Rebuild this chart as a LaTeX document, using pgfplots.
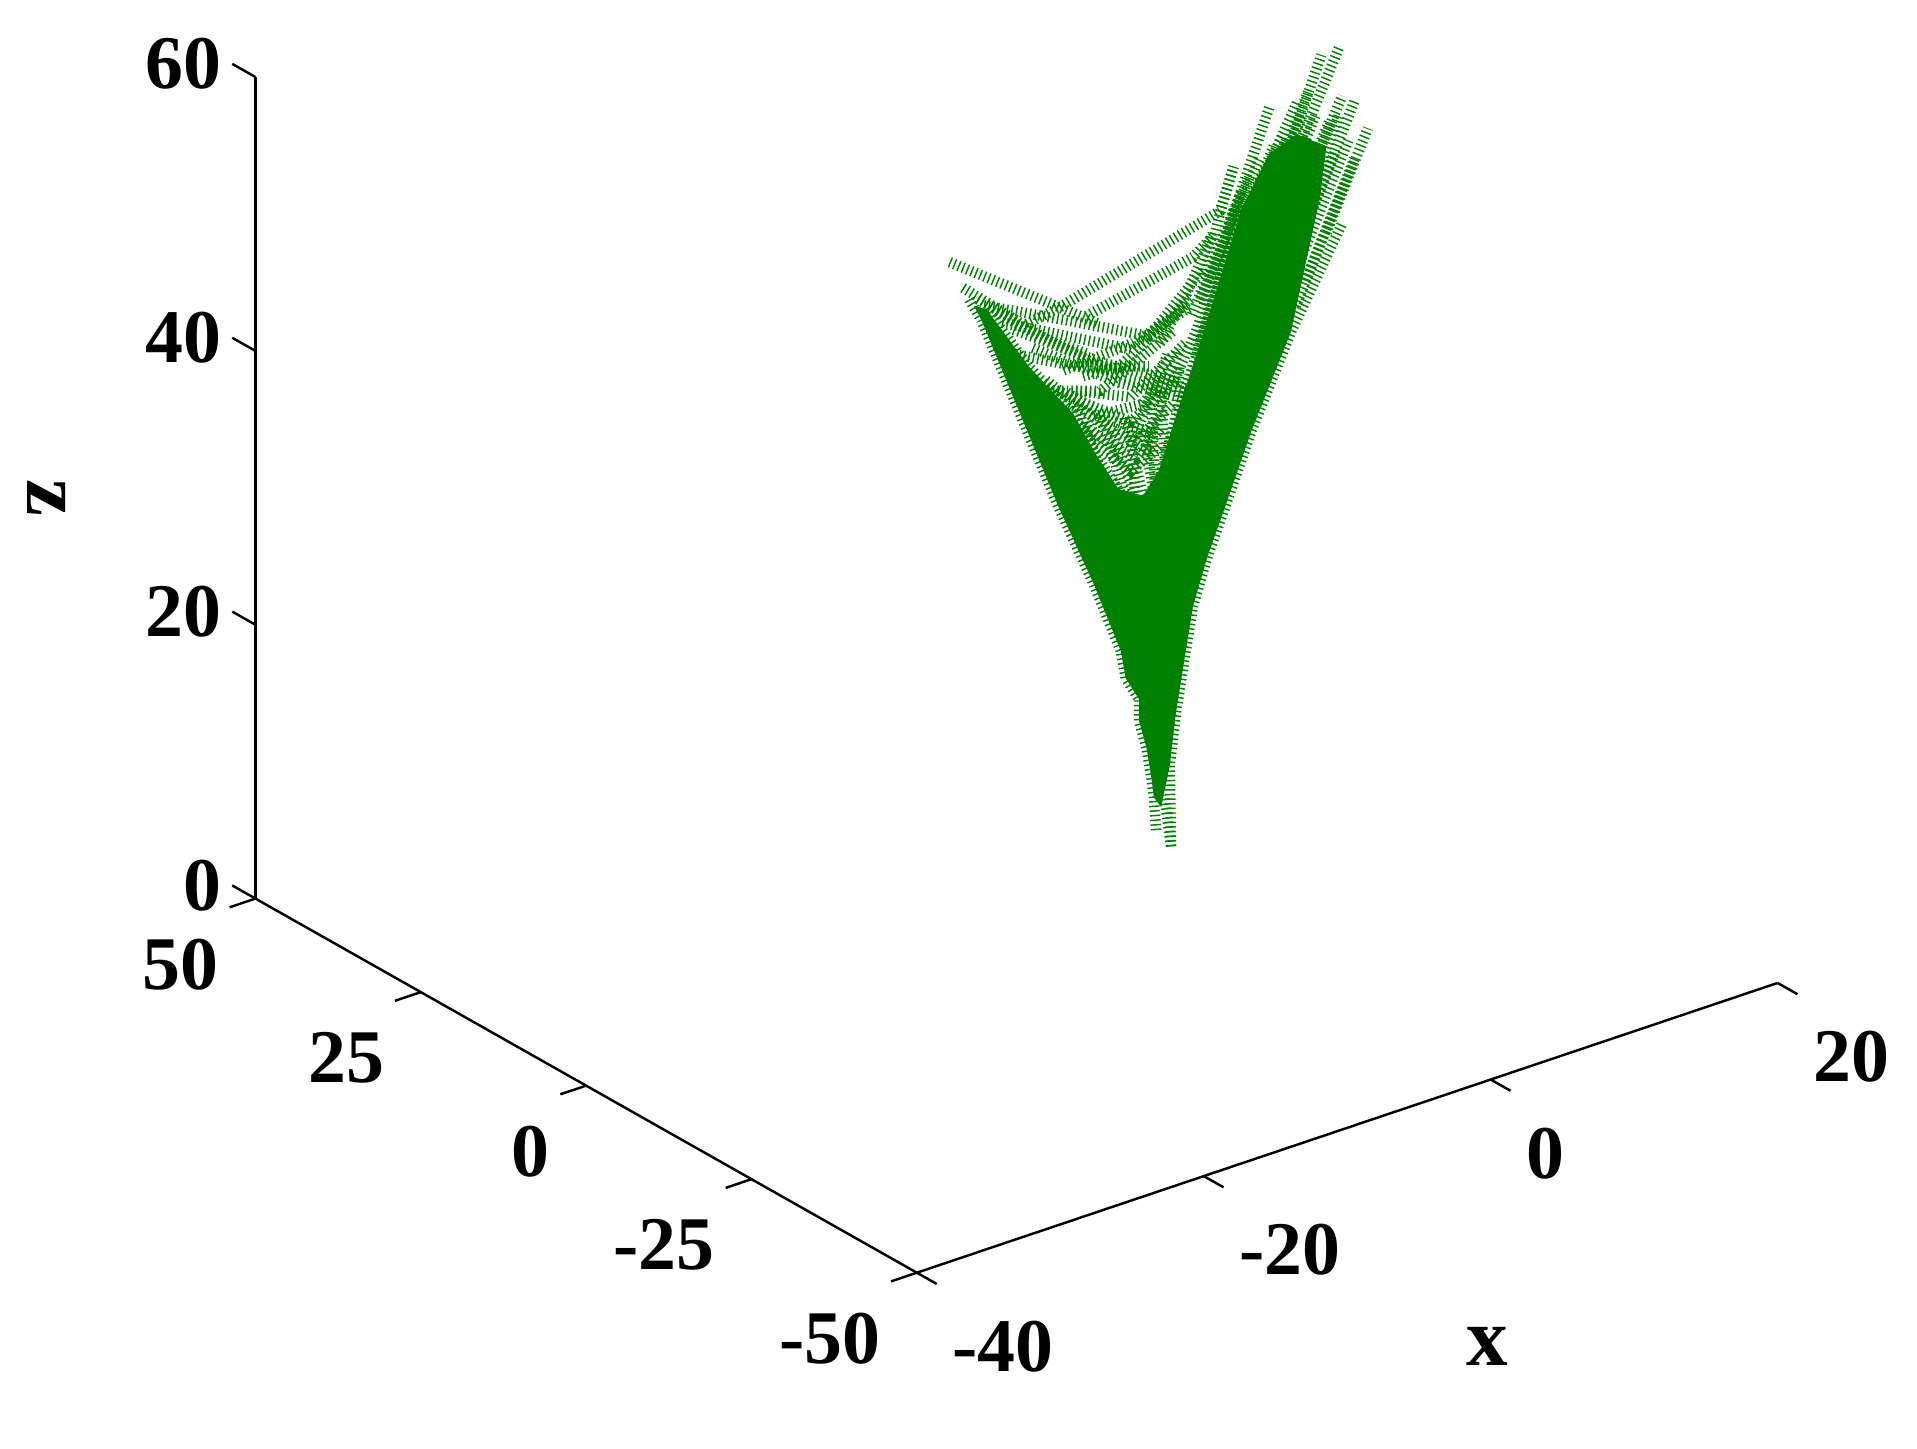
\documentclass[border=0pt]{standalone}
\usepackage{fontspec}
\setmainfont{Liberation Serif}
\usepackage{pgfplots}
\pgfplotsset{compat=1.18}
\definecolor{gr}{RGB}{0,128,0}
\pgfplotsset{hs/.style={color=gr, line width=4.3pt, dash pattern=on 0.6pt off 1.3pt, mark=none, line cap=butt, forget plot}}
\begin{document}
\begin{tikzpicture}
\path[use as bounding box] (0,0) rectangle (784pt,592.5pt);
\begin{axis}[
  at={(474.4pt,227.5pt)}, anchor=origin,
  x={(5.867pt,1.975pt)}, y={(-2.705pt,1.53pt)}, z={(0pt,5.6pt)},
  xmin=-40,xmax=20,ymin=-50,ymax=50,zmin=0,zmax=60,
  axis x line*=bottom, axis y line*=left, axis z line*=left,
  axis line style={black,line width=1pt,-},
  major tick length=0pt,
  xtick={-40,-20,0,20}, xticklabels={-40,-20,0,20},
  ytick={-50,-25,0,25,50}, yticklabels={-50,-25,0,25,50},
  ztick={0,20,40,60}, zticklabels={0,20,40,60},
  minor tick num=0, grid=none, clip=false,
  ticklabel style={font=\bfseries\fontsize{31}{31}\selectfont},
  xticklabel style={anchor=west,xshift=11pt,yshift=-30.2pt},
  yticklabel style={anchor=east,xshift=-11.5pt,yshift=-27pt},
  zticklabel style={anchor=east,xshift=-10.5pt,yshift=5.3pt},
  xlabel={x},zlabel={z},
  xlabel style={font=\bfseries\fontsize{34}{34}\selectfont,at={(axis cs:22.84,0,-41.2)},anchor=center},
  zlabel style={font=\bfseries\fontsize{34}{34}\selectfont,at={(axis cs:-77.6,0,56.2)},anchor=center,rotate=180},
]
% tick marks
\draw[black,line width=1pt] (axis cs:-40,-50,0)--(axis cs:-40,-53,0);
\draw[black,line width=1pt] (axis cs:-20,-50,0)--(axis cs:-20,-53,0);
\draw[black,line width=1pt] (axis cs:0,-50,0)--(axis cs:0,-53,0);
\draw[black,line width=1pt] (axis cs:20,-50,0)--(axis cs:20,-53,0);
\draw[black,line width=1pt] (axis cs:-40,-50,0)--(axis cs:-41.8,-50,0);
\draw[black,line width=1pt] (axis cs:-40,-25,0)--(axis cs:-41.8,-25,0);
\draw[black,line width=1pt] (axis cs:-40,0,0)--(axis cs:-41.8,0,0);
\draw[black,line width=1pt] (axis cs:-40,25,0)--(axis cs:-41.8,25,0);
\draw[black,line width=1pt] (axis cs:-40,50,0)--(axis cs:-41.8,50,0);
\draw[black,line width=1pt] (axis cs:-40,50,0)--(axis cs:-40,53.5,0);
\draw[black,line width=1pt] (axis cs:-40,50,20)--(axis cs:-40,53.5,20);
\draw[black,line width=1pt] (axis cs:-40,50,40)--(axis cs:-40,53.5,40);
\draw[black,line width=1pt] (axis cs:-40,50,60)--(axis cs:-40,53.5,60);
% core of the dense bundle
\addplot3[fill=gr,draw=none,forget plot] coordinates {
(0.09,0,6.2)(0.68,0,9.0)(1.11,0,12.7)(1.62,0,15.9)(2.30,0,20.1)(3.32,0,23.4)(4.52,0,26.5)(6.39,0,31.5)(9.12,0,37.7)(11.17,0,46.9)(11.6,0,50.4)(9.55,0,52.0)(7.67,0,51.3)(5.71,0,48.0)(2.56,0,38.4)(1.11,0,34.4)(-0.09,0,30.8)(-1.19,0,29.4)(-2.9,0,30.5)(-4.43,0,33.5)(-6.05,0,37.1)(-9.12,0,41.6)(-12.11,0,46.9)(-12.96,0,47.4)(-12.45,0,46.2)(-7.16,0,30.9)(-4.6,0,24.1)(-2.73,0,18.6)(-2.39,0,16.5)(-1.45,0,14.6)(-1.45,0,13.0)(-0.94,0,10.9)(-0.6,0,8.6)(-0.43,0,7.1)};
% edges
\addplot3[hs] coordinates {(0.77,0,3.1)(0.68,0,9.0)(1.11,0,12.7)(1.62,0,15.9)(2.30,0,20.1)(3.32,0,23.4)(4.52,0,26.5)(6.39,0,31.5)(9.12,0,37.7)(12.71,0,44.4)};
\addplot3[hs] coordinates {(-13.3,0,48.0)(-12.45,0,46.2)(-7.16,0,30.9)(-4.6,0,24.1)(-2.73,0,18.6)(-2.39,0,16.5)(-1.45,0,14.6)(-1.45,0,13.0)(-0.94,0,10.9)(-0.6,0,8.6)(-0.43,0,7.1)(-0.26,0,4.5)};
\addplot3[hs] coordinates {(0.77,0,3.1)(0.3,0,7.0)};
\addplot3[hs] coordinates {(-12.11,0,46.9)(-9.12,0,41.6)(-6.05,0,37.1)(-3.75,0,32.1)(-2.05,0,28.8)};
\addplot3[hs] coordinates {(-0.09,0,29.9)(1.11,0,34.4)(2.56,0,38.4)(5.71,0,48.0)};
% right arm
\addplot3[hs] coordinates {(8.61,0,48.8)(12.53,0,57.4)};
\addplot3[hs] coordinates {(8.18,0,48.9)(11.25,0,57.2)};
\addplot3[hs] coordinates {(4.77,0,46.5)(5.54,0,48.9)(7.67,0,54.8)};
\addplot3[hs] coordinates {(3.07,0,44.0)(4.27,0,48.4)(5.13,0,51.2)};
\addplot3[hs] coordinates {(9.46,0,46.7)(12.7,0,53.7)};
\addplot3[hs] coordinates {(10.31,0,45.5)(13.55,0,53.0)};
\addplot3[hs] coordinates {(11.6,0,44.1)(14.49,0,50.7)};
\addplot3[hs] coordinates {(10.74,0,48.4)(12.45,0,52.3)};
\addplot3[hs] coordinates {(6.9,0,49.3)(8.61,0,52.3)};
\addplot3[hs] coordinates {(7.76,0,50.8)(9.55,0,54.3)};
\addplot3[hs] coordinates {(6.91,0,47.1)(10.32,0,54.8)};
\addplot3[hs] coordinates {(7.42,0,45.2)(10.83,0,52.9)};
\addplot3[hs] coordinates {(6.48,0,45.5)(9.89,0,53.2)};
\addplot3[hs] coordinates {(8.36,0,44.4)(11.77,0,52.1)};
\addplot3[hs] coordinates {(8.78,0,42.0)(12.19,0,49.7)};
\addplot3[hs] coordinates {(9.72,0,42.6)(13.13,0,50.3)};
\addplot3[hs] coordinates {(10.14,0,41.1)(13.55,0,48.8)};
\addplot3[hs] coordinates {(9.46,0,39.5)(12.87,0,47.2)};
\addplot3[hs] coordinates {(5.37,0,44.1)(8.78,0,51.8)};
\addplot3[hs] coordinates {(4.52,0,44.0)(7.93,0,51.7)};
\addplot3[hs] coordinates {(3.49,0,43.4)(6.9,0,51.1)};
\addplot3[hs] coordinates {(2.81,0,42.3)(6.22,0,50.0)};
\addplot3[hs] coordinates {(2.22,0,41.4)(5.63,0,49.1)};
\addplot3[hs] coordinates {(3.07,0,41.8)(5.2,0,48.2)};
\addplot3[hs] coordinates {(2.22,0,38.5)(4.35,0,44.9)};
% web between the arms
\addplot3[hs] coordinates {(-14.66,0,51.2)(-6.99,0,45.2)(-4.2,0,43.0)};
\addplot3[hs] coordinates {(-9.29,0,44.8)(-6.99,0,45.2)(4.18,0,48.3)(5.13,0,51.2)};
\addplot3[hs] coordinates {(-13.73,0,49.0)(-9.8,0,45.1)};
\addplot3[hs] coordinates {(-5.12,0,43.9)(2.3,0,45.6)(3.67,0,46.6)};
\addplot3[hs] coordinates {(-11.0,0,45.5)(-1.88,0,40.3)(2.3,0,42.7)};
\addplot3[hs] coordinates {(-10.2,0,44.7)(-4.0,0,40.1)(1.36,0,36.8)};
\addplot3[hs] coordinates {(-6.73,0,40.5)(-1.88,0,40.8)(2.05,0,42.0)};
\addplot3[hs] coordinates {(-8.87,0,42.9)(-2.81,0,38.2)(1.36,0,35.7)};
\addplot3[hs] coordinates {(-7.93,0,40.2)(-3.75,0,35.3)(-0.51,0,32.2)};
\addplot3[hs] coordinates {(-5.37,0,39.6)(-2.81,0,39.4)(1.88,0,42.4)};
\addplot3[hs] coordinates {(-0.94,0,32.9)(1.36,0,39.2)};
\addplot3[hs] coordinates {(-2.05,0,33.3)(0.51,0,39.1)};
\addplot3[hs] coordinates {(-5.12,0,36.1)(-3.07,0,32.7)(-1.62,0,30.9)};
\addplot3[hs] coordinates {(-6.48,0,38.8)(-3.32,0,35.6)(-0.51,0,33.8)};
\addplot3[hs] coordinates {(0,0,40.1)(1.88,0,43.1)(3.67,0,46.8)};
\addplot3[hs] coordinates {(0.94,0,36.9)(2.56,0,40.2)(4.18,0,44.5)};
\addplot3[hs] coordinates {(-12.28,0,47.2)(-6.73,0,44.2)(-0.77,0,40.9)(3.07,0,44.5)};
\addplot3[hs] coordinates {(-12.7,0,47.8)(-7.59,0,42.9)(-2.47,0,38.4)(1.79,0,36.0)};
\addplot3[hs] coordinates {(-11.42,0,46.4)(-8.44,0,43.6)(-5.03,0,41.1)};
\addplot3[hs] coordinates {(-10.14,0,42.9)(-5.88,0,40.5)(-0.77,0,38.7)};
\addplot3[hs] coordinates {(-8.44,0,39.6)(-4.18,0,38.1)(0.94,0,40.7)};
\addplot3[hs] coordinates {(-5.88,0,36.4)(-1.62,0,32.3)(0.09,0,33.9)};
\addplot3[hs] coordinates {(-5.46,0,35.4)(-2.05,0,31.5)(0.09,0,32.6)};
\addplot3[hs] coordinates {(-6.31,0,37.9)(-1.62,0,33.6)(0.94,0,35.4)};
\addplot3[hs] coordinates {(-7.16,0,39.1)(-2.05,0,35.1)(1.36,0,37.0)};
\addplot3[hs] coordinates {(-4.6,0,36.4)(-1.19,0,36.1)(0.94,0,38.1)};
\addplot3[hs] coordinates {(-5.88,0,38.7)(-2.05,0,36.9)(1.79,0,39.5)};
% strands fanning up out of the dense part
\addplot3[hs] coordinates {(-2.05,0,25.7)(-5.88,0,37.8)};
\addplot3[hs] coordinates {(-1.19,0,25.4)(-4.18,0,36.3)};
\addplot3[hs] coordinates {(-0.34,0,25.1)(-2.47,0,35.7)};
\addplot3[hs] coordinates {(0.09,0,25.9)(-1.19,0,34.3)};
\addplot3[hs] coordinates {(0.51,0,27.5)(0.09,0,36.6)};
\addplot3[hs] coordinates {(0.94,0,29.1)(1.36,0,37.9)};
\addplot3[hs] coordinates {(-3.15,0,26.1)(-6.73,0,37.6)};
\addplot3[hs] coordinates {(-0.77,0,26.2)(-3.32,0,35.1)};
\addplot3[hs] coordinates {(-1.62,0,27.4)(-2.05,0,35.5)};
\addplot3[hs] coordinates {(-0.34,0,29.6)(-0.6,0,35.9)};
\addplot3[hs] coordinates {(0.51,0,32.0)(3.5,0,40.7)};
\addplot3[hs] coordinates {(1.36,0,33.4)(4.35,0,43.1)};
\addplot3[hs] coordinates {(2.64,0,39.3)(4.77,0,45.6)};
\end{axis}
\end{tikzpicture}
\end{document}
